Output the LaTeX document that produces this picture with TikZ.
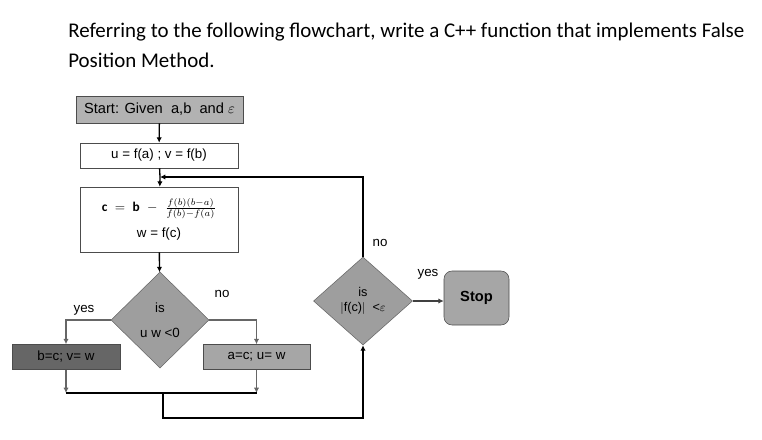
\documentclass[tikz,border=0pt]{standalone}
\usepackage{fontspec}
\setmainfont{Carlito}
\setsansfont{Liberation Sans}
\usetikzlibrary{shapes.geometric,arrows.meta}
\tikzset{
  box/.style={draw=black!70,minimum height=25*0.75pt,inner sep=1pt,font=\sffamily\fontsize{10}{11}\selectfont},
  dia/.style={diamond,draw=black!60,fill=black!38,aspect=1,minimum width=98*0.75pt,minimum height=96*0.75pt,inner sep=0pt,font=\sffamily\fontsize{10}{11}\selectfont,align=center},
  lbl/.style={font=\sffamily\fontsize{10}{11}\selectfont},
  flow/.style={-{Latex[length=4pt,width=4pt]},line width=1pt},
  thin flow/.style={-{Latex[length=4pt,width=4pt]},draw=black!60,line width=0.9pt},
}
\begin{document}
\begin{tikzpicture}[x=0.75pt,y=0.75pt,yscale=-1,xscale=1]
\useasboundingbox (0,0) rectangle (762,439);
% question
\node[anchor=west,inner sep=0pt,font=\fontsize{15.7}{18}\selectfont] (q1) at (68,32) {Referring to the following flowchart, write a C++ function that implements False};
\node[anchor=west,inner sep=0pt,font=\fontsize{15.7}{18}\selectfont] (q2) at (68,60) {Position Method.};
% boxes
\node[box,fill=black!30,minimum width=167*0.75pt,minimum height=27*0.75pt,font=\sffamily\fontsize{11}{12}\selectfont] (start) at (159.5,109.5) {Start: Given \ a,b \ and $\varepsilon$};
\node[box,minimum width=158*0.75pt] (uv) at (159,155.5) {u = f(a) ; v = f(b)};
\node[box,minimum width=158*0.75pt,minimum height=65*0.75pt,align=center] (c) at (159,219.5)
  {$\mathbf{c \;=\; b \;\;-\;\;} \frac{f(b)(b-a)}{f(b)-f(a)}$\\[6pt] w = f(c)};
\node[dia] (d1) at (160,320) {is\\[8pt]u w <0};
\node[box,fill=black!60,minimum width=108*0.75pt] (bc) at (66,357) {b=c; v= w};
\node[box,fill=black!35,minimum width=107*0.75pt] (ac) at (256.5,357) {a=c; u= w};
\node[dia,minimum width=99*0.75pt,minimum height=88*0.75pt,font=\sffamily\fontsize{9.5}{10}\selectfont] (d2) at (363,301) {is\\[1pt]$|$f(c)$|$ \ <$\varepsilon$};
\node[box,draw=black!70,fill=black!35,rounded corners=6pt,minimum width=65*0.75pt,minimum height=54*0.75pt,font=\sffamily\bfseries\fontsize{11}{12}\selectfont] (stop) at (476.5,298) {Stop};
% junctions
\coordinate (top) at (160,177);
\coordinate (mid) at (163,393);
% connectors
\draw[flow] (start) -- (uv);
\draw[line width=1pt] (uv) -- (top);
\draw[flow] (top) -- (c);
\draw[flow] (c) -- (d1);
\draw[flow] (d2.north) |- (top);
\draw[thin flow] (d1.west) -| (bc.north);
\draw[thin flow] (d1.east) -| (ac.north);
\draw[thin flow] (bc.south) -- (bc.south |- mid);
\draw[thin flow] (ac.south) -- (ac.south |- mid);
\draw[line width=1pt] (bc.south |- mid) -- (ac.south |- mid);
\draw[flow] (mid) -- ++(0,25) -| (d2.south);
\draw[flow,draw=black!75] (d2.east) -- (stop.west |- d2.east);
% labels
\node[lbl] (no2) at (380,243) {no};
\node[lbl] (yes2) at (428,274) {yes};
\node[lbl] (no1) at (222,294) {no};
\node[lbl] (yes1) at (84,310) {yes};
\end{tikzpicture}
\end{document}
